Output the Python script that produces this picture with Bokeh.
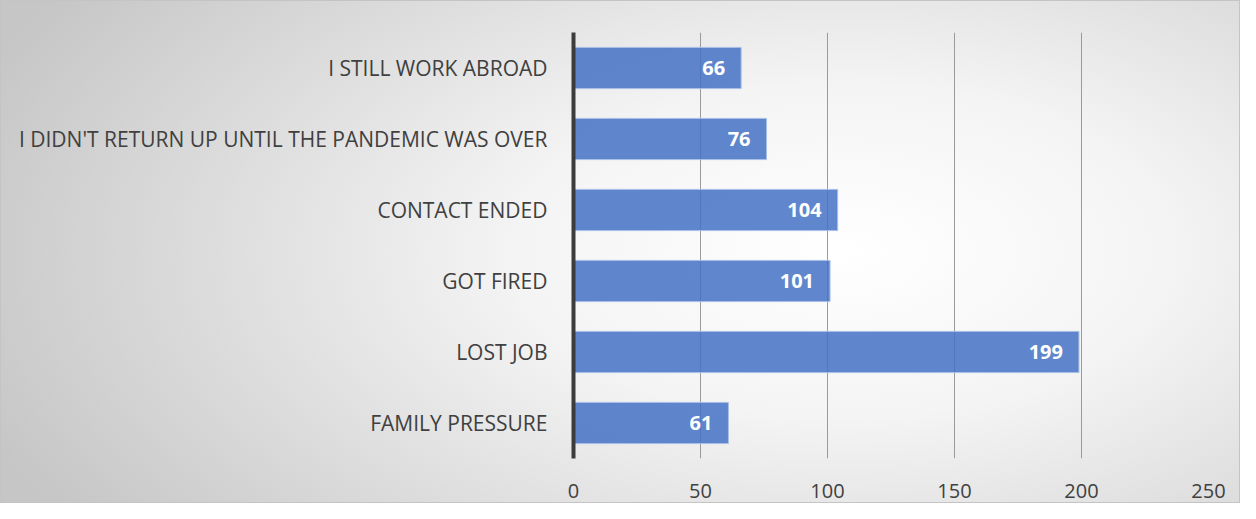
from bokeh.plotting import figure
from bokeh.models import ColumnDataSource, FactorRange
from bokeh.core.properties import value
from bokeh.embed import file_html
from bokeh.resources import INLINE

categories = ["FAMILY PRESSURE", "LOST JOB", "GOT FIRED", "CONTACT ENDED",
              "I DIDN'T RETURN UP UNTIL THE PANDEMIC WAS OVER", "I STILL WORK ABROAD"]
counts = [61, 199, 101, 104, 76, 66]
x_ticks = [0, 50, 100, 150, 200, 250]

src = ColumnDataSource(dict(cat=categories, val=counts, lab=[str(v) for v in counts]))

p = figure(y_range=FactorRange(*categories, range_padding=0),
           x_range=(0, 250), width=1240, height=503,
           output_backend="svg", toolbar_location=None,
           min_border_left=572, min_border_right=33, min_border_top=31, min_border_bottom=46)

p.background_fill_color = None
p.border_fill_color = None
p.outline_line_color = None
p.styles = {
    "background": "radial-gradient(ellipse 75% 95% at 68% 50%, #ffffff 0%, #f4f4f4 35%, #c6c6c6 100%)",
    "border": "1px solid #c4c4c4",
    "box-sizing": "border-box",
}

p.hbar(y="cat", right="val", left=0, height=0.58, source=src,
       fill_color="#4472C4", fill_alpha=0.85, line_color="#a9bfe6", line_width=1)

p.text(x="val", y="cat", text="lab", source=src, x_offset=-16,
       text_align="right", text_baseline="middle", text_color="white",
       text_font=value("Open Sans"), text_font_style="bold", text_font_size="20px")

p.xaxis.ticker = x_ticks
p.xaxis.axis_line_color = None
p.xaxis.major_tick_line_color = None
p.xaxis.minor_tick_line_color = None
p.xaxis.major_label_text_font = "Open Sans"
p.xaxis.major_label_text_font_size = "20px"
p.xaxis.major_label_text_color = "#404040"
p.xaxis.major_label_standoff = 19

p.yaxis.axis_line_color = "#3c3c3c"
p.yaxis.axis_line_width = 4
p.yaxis.major_tick_line_color = None
p.yaxis.minor_tick_line_color = None
p.yaxis.major_label_text_font = "Open Sans"
p.yaxis.major_label_text_font_size = "21px"
p.yaxis.major_label_text_color = "#404040"
p.yaxis.major_label_standoff = 20

p.ygrid.grid_line_color = None
p.xgrid.grid_line_color = "#9a9a9a"
p.xgrid.grid_line_width = 1

open("out.html", "w").write(file_html(p, INLINE))
